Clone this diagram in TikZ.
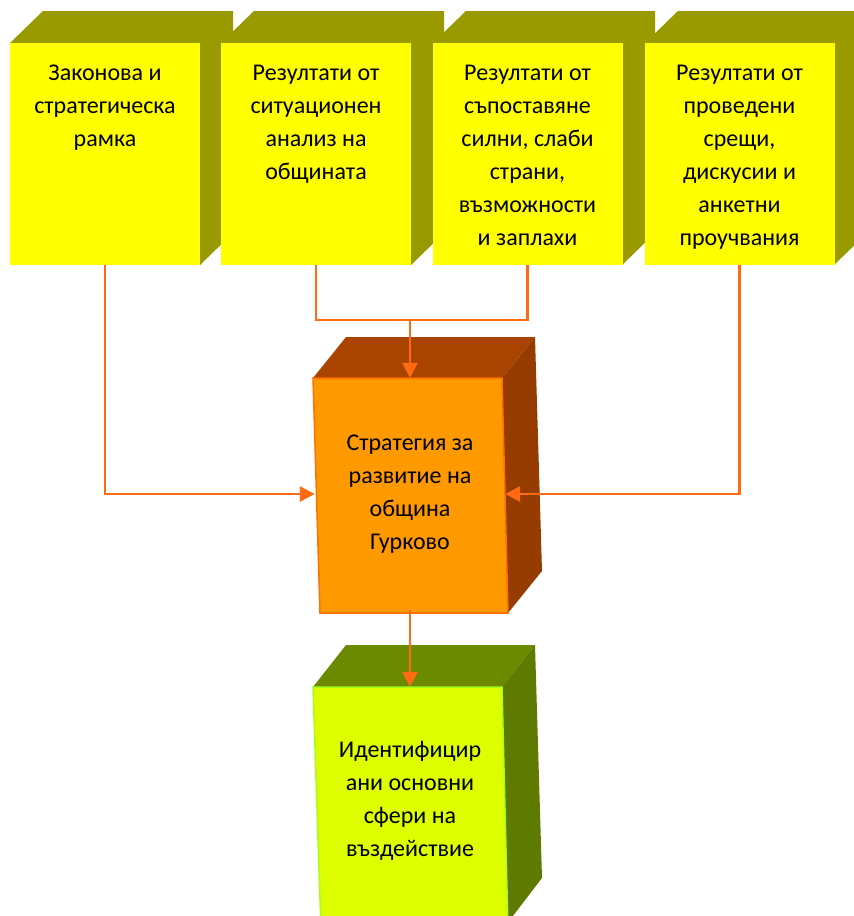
\documentclass[tikz,border=0pt]{standalone}
\usepackage{fontspec}
\setmainfont{Carlito}
\usetikzlibrary{arrows.meta,positioning}
\definecolor{yfront}{HTML}{FFFF00}
\definecolor{yshade}{HTML}{999900}
\definecolor{ofront}{HTML}{FF9900}
\definecolor{oedge}{HTML}{FF7000}
\definecolor{otop}{HTML}{A84400}
\definecolor{oside}{HTML}{963C00}
\definecolor{lfront}{HTML}{DDFF00}
\definecolor{ledge}{HTML}{A6FF1A}
\definecolor{ltop}{HTML}{6B8A00}
\definecolor{lside}{HTML}{5E7A00}
\definecolor{flow}{HTML}{FF6A13}
\def\backfaces(#1:#2){\fill[yshade] (#1,43) -- (#1+33,11) -- (#2+33,11) -- (#2+33,233) -- (#2,265) -- cycle;}
\tikzset{
	front/.style={rectangle, fill=yfront, minimum width=190pt, minimum height=222pt, inner sep=0pt},
	boxtext/.style={align=center, inner sep=0pt, font=\fontsize{24}{33}\selectfont},
	flowline/.style={draw=flow, line width=2.6pt, -{Triangle[width=15pt,length=15pt]}}
}

\begin{document}
\begin{tikzpicture}[x=1pt,y=-1pt]
			%%%%% START %%%%%
			\useasboundingbox (0,0) rectangle (854,916);
			
			\backfaces(10:200)
			\node[front] (b1) at (105,154) {};
			\node[boxtext, below=14pt of b1.north] (t1) {\strut Законова и\\стратегическа\\рамка};
			
			\backfaces(221:411)
			\node[front] (b2) at (316,154) {};
			\node[boxtext, below=14pt of b2.north] (t2) {\strut Резултати от\\ситуационен\\анализ на\\общината};
			
			\backfaces(433:622)
			\node[front] (b3) at (527.5,154) {};
			\node[boxtext, below=14pt of b3.north] (t3) {\strut Резултати от\\съпоставяне\\силни, слаби\\страни,\\възможности\\и заплахи};
			
			\backfaces(645:834)
			\node[front] (b4) at (739.5,154) {};
			\node[boxtext, below=14pt of b4.north] (t4) {\strut Резултати от\\проведени\\срещи,\\дискусии и\\анкетни\\проучвания};
			
			\fill[otop] (313,378) -- (346,337) -- (535,337) -- (502,378) -- cycle;
			\fill[oside] (502,378) -- (535,337) -- (542,571) -- (508,613) -- cycle;
			\draw[fill=ofront, draw=oedge, line width=1.5pt] (313,378) -- (502,378) -- (508,613) -- (320,613) -- cycle;
			\node[boxtext, minimum width=190pt, minimum height=232pt] (strat) at (410,494) {Стратегия за\\развитие на\\община\\Гурково};
			
			\fill[ltop] (313,687) -- (346,645) -- (535,645) -- (502,687) -- cycle;
			\fill[lside] (502,687) -- (535,645) -- (542,878) -- (506,925) -- cycle;
			\draw[fill=lfront, draw=ledge, line width=1.5pt] (313,687) -- (502,687) -- (508,930) -- (321,930) -- cycle;
			\node[boxtext, minimum width=190pt, minimum height=228pt] (ident) at (410,801) {Идентифицир\\ани основни\\сфери на\\въздействие};
			
			\coordinate (join) at (410,320);
			\draw[flowline] (b1.south) |- (strat.west);
			\draw[flowline] (b4.south) |- (strat.east);
			\draw[flowline,-] (b2.south) |- (join) -| (b3.south);
			\draw[flowline] (join) -- (strat.north);
			\draw[flowline] (strat.south) -- (ident.north);
			
			%%%%% END %%%%%
\end{tikzpicture}
\end{document}
